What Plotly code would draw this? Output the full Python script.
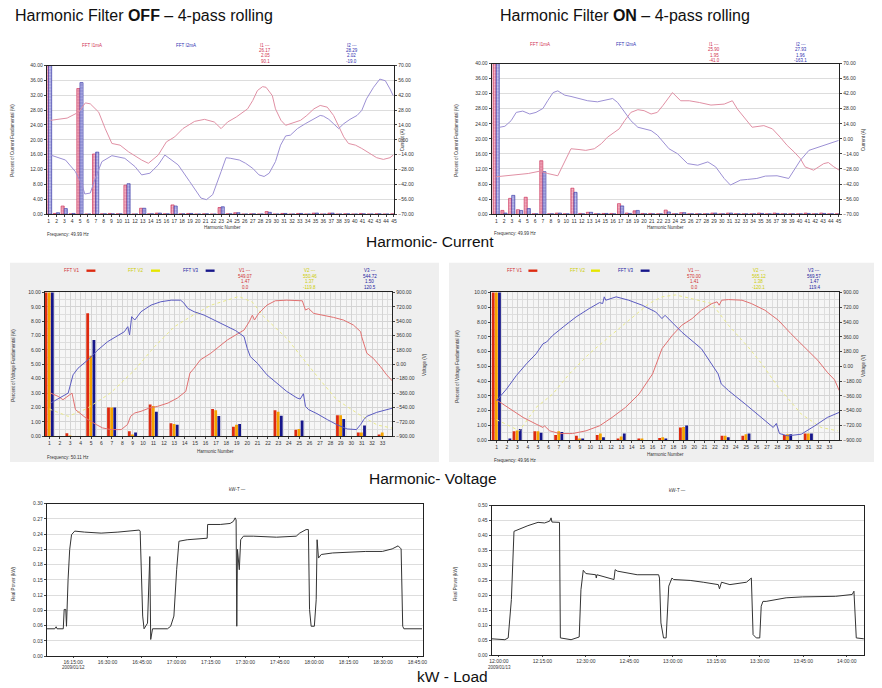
import plotly.graph_objects as go
import pandas as pd

# The page places the figure 8 px in from the top-left corner, so the figure is
# sized to fill the remaining window and all layout positions are given in window pixels.
OFF = 8
W, H = 882 - OFF, 688 - OFF
FONT = "Liberation Sans, Arial, sans-serif"

# ---------------- DATA ----------------
harm45 = list(range(1, 46))
harm33 = list(range(1, 34))

# Harmonic current, filter OFF (% of fundamental)
i1_off = [100, 0.2, 2.2, 0.1, 33.8, 0.05, 16.2, 0.1, 0.2, 0.1, 7.8, 0.05, 1.6, 0.1, 0.3,
          0.1, 2.5, 0.1, 0.2, 0.05, 0.1, 0.05, 1.8, 0.1, 0.4, 0.05, 0.1, 0.05, 0.7, 0.05,
          0.2, 0.05, 0.2, 0.05, 0.3, 0.05, 0.3, 0.05, 0.1, 0.05, 0.2, 0.05, 0.1, 0.05, 0.1]
i2_off = [100, 0.4, 1.5, 0.2, 35.4, 0.05, 16.7, 0.1, 0.1, 0.1, 8.2, 0.05, 1.6, 0.1, 0.3,
          0.1, 2.2, 0.1, 0.2, 0.05, 0.1, 0.05, 2.0, 0.1, 0.4, 0.05, 0.1, 0.05, 0.5, 0.05,
          0.2, 0.05, 0.2, 0.05, 0.3, 0.05, 0.3, 0.05, 0.1, 0.05, 0.1, 0.05, 0.1, 0.05, 0.1]
# Harmonic current, filter ON
i1_on = [100, 1.0, 4.2, 1.2, 4.5, 0.1, 14.2, 0.1, 0.3, 0.1, 6.9, 0.2, 0.5, 0.1, 0.2,
         0.2, 2.8, 0.3, 0.9, 0.2, 0.2, 0.1, 1.1, 0.1, 0.4, 0.1, 0.1, 0.1, 0.3, 0.1,
         0.3, 0.1, 0.1, 0.1, 0.3, 0.1, 0.3, 0.1, 0.1, 0.1, 0.3, 0.1, 0.3, 0.1, 0.1]
i2_on = [100, 0.3, 5.0, 1.0, 1.5, 0.1, 11.3, 0.1, 0.3, 0.1, 5.8, 0.1, 0.5, 0.1, 0.2,
         0.1, 2.2, 0.2, 1.0, 0.1, 0.1, 0.1, 0.6, 0.1, 0.4, 0.1, 0.1, 0.1, 0.3, 0.1,
         0.3, 0.1, 0.1, 0.1, 0.2, 0.1, 0.2, 0.1, 0.1, 0.1, 0.2, 0.1, 0.2, 0.1, 0.1]

# Current waveforms (A), x in harmonic-axis units
wav_i1_off_x = [1.24, 3.35, 4.83, 5.67, 6.3, 7.37, 8.2, 9.05, 10.1, 11.16, 12.85, 13.7, 14.96, 16.0,
                17.06, 18.1, 19.6, 20.86, 22.1, 22.97, 23.8, 24.9, 26.35, 27.0, 27.6, 28.25, 28.7,
                29.5, 29.9, 30.6, 31.2, 31.8, 33.1, 33.9, 34.8, 35.6, 36.5, 37.3, 37.95, 38.6, 39.2,
                40.1, 40.9, 41.96, 42.8, 43.65, 44.5, 44.9]
wav_i1_off_y = [18.4, 20.5, 26.1, 34.8, 33.9, 26.1, 10.6, -3.4, -5.0, -11.2, -19.0, -22.1, -14.3, -1.9,
                2.8, 10.6, 17.4, 19.3, 16.8, 10.6, 16.8, 21.5, 29.2, 37.0, 46.4, 50.1, 49.5,
                41.7, 29.2, 18.4, 13.7, 15.2, 18.4, 23.0, 29.2, 32.4, 30.8, 23.0, 12.1, 2.8, -3.4,
                -5.0, -8.1, -12.8, -16.8, -18.4, -16.8, -14.3]
wav_i2_off_x = [1.24, 3.14, 4.4, 5.25, 5.6, 6.3, 6.94, 7.78, 9.05, 10.7, 12.0, 12.85, 13.9, 14.96,
                15.8, 16.6, 17.5, 18.96, 20.4, 21.1, 21.9, 22.97, 23.6, 24.2, 25.3, 26.1, 27.0, 27.8,
                28.45, 29.1, 29.9, 30.55, 31.2, 31.8, 32.7, 33.7, 34.8, 35.6, 36.0, 36.7, 37.3, 37.95,
                38.6, 39.4, 40.3, 40.9, 41.5, 42.4, 43.2, 43.9, 44.5, 44.9]
wav_i2_off_y = [-14.3, -19.0, -29.9, -42.3, -51.0, -50.1, -36.1, -20.5, -14.9, -17.4, -25.2, -33.0,
                -31.4, -23.6, -14.3, -19.0, -23.6, -39.2, -54.8, -56.3, -51.6, -29.9, -16.8, -17.4,
                -19.0, -22.1, -26.8, -33.0, -34.5, -31.4, -20.5, -5.0, 3.7, 4.4, 10.6, 15.2, 19.9,
                23.0, 22.4, 19.3, 15.2, 10.6, 15.2, 19.3, 23.0, 27.7, 38.6, 49.5, 57.2, 55.7, 47.9, 41.7]

wav_i1_on_x = [1.0, 2.9, 5.1, 6.6, 7.6, 8.9, 9.55, 10.2, 10.6, 11.5, 12.5, 13.6, 14.5, 15.3, 16.2,
               16.8, 17.5, 18.3, 19.2, 20.0, 20.9, 21.7, 22.4, 23.65, 24.7, 25.8, 27.1, 28.6, 30.3,
               31.35, 32.0, 33.05, 33.9, 35.4, 36.5, 37.5, 38.4, 39.3, 40.1, 40.7, 41.8, 43.1,
               43.7, 44.4, 45.1]
wav_i1_on_y = [-35.2, -33.7, -32.2, -30.0, -32.2, -34.3, -24.5, -13.8, -9.2, -9.8, -10.7, -9.2, -4.5,
               1.6, 6.2, 9.3, 16.9, 24.6, 27.1, 26.2, 23.1, 24.6, 30.8, 43.0, 35.4, 35.4, 33.8,
               31.4, 32.3, 35.4, 27.7, 18.5, 10.8, 12.3, 9.3, 1.6, -6.1, -12.2, -18.4, -26.0,
               -29.1, -23.0, -22.0, -26.0, -29.1]
wav_i2_on_x = [1.44, 2.1, 2.9, 3.56, 4.4, 5.3, 6.1, 7.0, 7.6, 8.3, 8.9, 9.8, 10.6, 11.5, 12.75, 14.0,
               15.1, 15.96, 16.6, 17.5, 18.3, 19.2, 20.0, 20.9, 21.7, 23.2, 24.3, 25.6, 26.9, 28.2,
               29.2, 30.3, 31.1, 32.4, 33.3, 34.5, 35.6, 37.1, 38.6, 39.3, 40.1, 41.2, 42.5, 43.7, 45.0]
wav_i2_on_y = [10.8, 11.7, 16.9, 24.6, 25.8, 23.1, 24.6, 28.3, 35.4, 43.0, 44.6, 40.6, 39.4, 37.8,
               35.4, 34.4, 36.0, 37.5, 33.8, 24.6, 16.9, 10.8, 9.3, 7.7, 3.5, -9.2, -13.8, -23.0,
               -24.5, -21.4, -26.0, -36.8, -42.9, -38.3, -37.7, -36.8, -34.6, -34.3, -36.8, -29.1,
               -19.9, -10.7, -7.6, -4.5, -1.5]

# Harmonic voltage (% of fundamental), listed harmonics, others zero
v1_off = {1: 100, 3: 0.2, 5: 8.55, 7: 2.0, 9: 0.35, 11: 2.2, 13: 0.9, 17: 1.9, 19: 0.65, 23: 1.8,
          25: 0.45, 29: 1.45, 31: 0.25, 33: 0.1}
v2_off = {1: 100, 3: 0.05, 5: 5.6, 7: 2.0, 9: 0.1, 11: 2.1, 13: 0.85, 17: 1.8, 19: 0.8, 23: 1.7,
          25: 0.5, 29: 1.45, 31: 0.25, 33: 0.25}
v3_off = {1: 100, 5: 6.7, 7: 2.0, 9: 0.25, 11: 1.7, 13: 0.8, 17: 1.4, 19: 0.85, 23: 1.43,
          25: 1.1, 29: 1.2, 31: 0.74}
v1_on = {1: 100, 3: 0.6, 5: 0.6, 7: 0.35, 9: 0.3, 11: 0.35, 13: 0.1, 15: 0.05, 17: 0.15, 19: 0.85,
         23: 0.3, 25: 0.3, 29: 0.35, 31: 0.45}
v2_on = {1: 100, 3: 0.65, 5: 0.6, 7: 0.6, 9: 0.05, 11: 0.45, 13: 0.25, 15: 0.05, 17: 0.2, 19: 0.9,
         23: 0.3, 25: 0.4, 29: 0.4, 31: 0.45}
v3_on = {1: 100, 2: 0.1, 3: 0.75, 5: 0.5, 7: 0.55, 9: 0.1, 11: 0.2, 13: 0.45, 17: 0.05, 19: 1.0,
         23: 0.2, 25: 0.45, 29: 0.4, 31: 0.45}

# Voltage waveforms (V)
wv1_off_x = [1.12, 1.83, 2.3, 2.8, 3.17, 3.5, 3.9, 4.7, 5.5, 6.1, 6.9, 7.9, 8.5, 8.8, 9.2, 9.8, 10.6,
             11.4, 12.4, 13.3, 14.1, 14.5, 14.9, 15.5, 16.5, 17.46, 18.1, 18.9, 19.4, 19.7, 20.2,
             20.5, 20.7, 21.1, 21.9, 22.7, 23.8, 25.3, 25.6, 25.9, 26.4, 27.3, 28.3, 29.25, 30.2,
             30.9, 31.0, 31.5, 32.1, 32.8, 33.4, 34.0]
wv1_off_y = [-360, -401, -443, -401, -360, -567, -609, -692, -754, -796, -817, -817, -754, -651, -609,
             -588, -547, -526, -484, -422, -339, -110, -48, 56, 139, 243, 306, 368, 409, 430, 534,
             617, 555, 638, 742, 796, 804, 796, 680, 700, 638, 617, 588, 555, 493, 409, 347, 139,
             77, -27, -131, -214]
wv2_off_x = [1.0, 2.8, 4.5, 6.9, 9.2, 11.1, 13.0, 14.6, 16.5, 18.4, 19.2, 20.5, 21.6, 23.8, 25.7,
             27.0, 28.6, 30.9, 32.5, 34.0]
wv2_off_y = [-560, -651, -560, -356, -69, 222, 471, 600, 740, 820, 850, 780, 596, 326, 15, -194,
             -443, -640, -760, -800]
wv3_off_x = [1.12, 1.99, 2.8, 3.27, 3.75, 4.7, 5.66, 6.6, 7.4, 8.2, 8.53, 8.7, 8.9, 9.2, 9.8, 10.76,
             11.7, 12.7, 13.6, 13.9, 14.3, 14.9, 15.86, 16.8, 17.46, 18.1, 18.9, 19.7, 20.0, 20.3,
             20.97, 21.9, 22.9, 23.8, 24.8, 25.1, 25.4, 25.6, 25.9, 26.7, 27.7, 28.6, 29.6, 30.2,
             30.5, 30.9, 31.2, 31.5, 32.45, 34.0]
wv3_off_y = [-484, -422, -360, -131, -48, 56, 181, 285, 347, 409, 472, 368, 597, 555, 659, 742, 784,
             804, 804, 771, 700, 659, 617, 555, 513, 472, 422, 347, 202, 98, 15, -131, -235, -339,
             -422, -434, -368, -526, -567, -617, -692, -754, -809, -817, -817, -754, -692, -651,
             -601, -547]

wv1_on_x = [1.0, 2.3, 3.55, 4.8, 5.46, 5.6, 6.1, 7.05, 8.3, 9.6, 10.9, 12.1, 13.4, 14.7, 16.0, 16.9,
            17.9, 18.8, 19.8, 20.7, 21.7, 22.2, 22.4, 22.65, 23.3, 24.6, 25.5, 26.8, 28.1, 29.3,
            30.6, 31.9, 32.8, 33.5, 33.95]
wv1_on_y = [-410, -521, -623, -704, -745, -725, -786, -819, -819, -786, -725, -623, -500, -337, -92,
            214, 378, 500, 582, 684, 765, 786, 745, 806, 814, 806, 765, 684, 561, 398, 235, 71,
            -72, -165, -296]
wv2_on_x = [1.0, 3.2, 4.8, 6.4, 8.0, 9.9, 11.8, 13.7, 15.65, 16.9, 18.2, 19.6, 21.7, 23.3, 25.2,
            26.5, 28.1, 30.3, 32.2, 33.8]
wv2_on_y = [-650, -786, -500, -337, -92, 153, 357, 561, 765, 847, 870, 830, 765, 500, 235, 30,
            -255, -582, -745, -786]
wv3_on_x = [1.0, 1.96, 2.9, 3.87, 4.8, 5.46, 5.8, 6.4, 7.4, 8.64, 9.9, 10.9, 11.2, 11.35, 11.5, 12.5,
            13.7, 15.0, 16.3, 16.9, 17.2, 18.8, 20.7, 22.3, 22.6, 23.3, 24.9, 26.5, 27.6, 27.9,
            28.2, 29.0, 30.3, 31.6, 32.8, 33.95]
wv3_on_y = [-418, -276, -112, 31, 153, 275, 296, 377, 480, 602, 704, 777, 765, 847, 806, 847, 806,
            745, 663, 582, 622, 418, 214, -92, -214, -296, -459, -623, -745, -696, -819, -847,
            -827, -725, -623, -561]

# kW load, filter OFF: minutes after 16:00 on 2009/01/12
kw_off_min = [3.5, 7.0, 7.6, 8.0, 10.7, 11.1, 11.8, 12.1, 12.8, 13.5, 14.3, 15.7, 20.0, 27.2, 34.5,
              41.6, 43.8, 44.2, 45.3, 45.9, 47.4, 48.4, 48.8, 49.6, 56.1, 57.5, 58.9, 60.1, 61.1,
              64.7, 73.4, 73.6, 79.1, 83.4, 84.8, 85.6, 86.0, 86.3, 86.6, 87.4, 88.0, 89.2, 93.5,
              103.6, 112.2, 113.7, 116.5, 117.5, 118.0, 118.7, 120.1, 120.9, 121.3, 121.9, 123.1,
              128.1, 135.3, 142.5, 149.7, 154.0, 156.6, 157.9, 158.6, 159.1, 167.0]
kw_off_val = [0.054, 0.054, 0.058, 0.054, 0.054, 0.092, 0.092, 0.059, 0.151, 0.210, 0.239, 0.246,
              0.244, 0.242, 0.244, 0.247, 0.248, 0.246, 0.079, 0.054, 0.065, 0.196, 0.033, 0.054,
              0.054, 0.059, 0.079, 0.170, 0.226, 0.229, 0.232, 0.259, 0.259, 0.261, 0.265, 0.272,
              0.268, 0.059, 0.210, 0.170, 0.229, 0.236, 0.236, 0.234, 0.236, 0.242, 0.249, 0.249,
              0.092, 0.059, 0.059, 0.111, 0.229, 0.193, 0.200, 0.203, 0.205, 0.206, 0.206, 0.211,
              0.217, 0.211, 0.059, 0.054, 0.054]
# kW load, filter ON: minutes after 12:00 on 2009/01/13
kw_on_min = [-2.5, 2.05, 3.2, 4.3, 5.2, 6.6, 10.0, 13.5, 15.75, 17.5, 18.0, 18.3, 20.9, 21.2, 22.6,
             24.9, 27.7, 28.3, 29.1, 30.0, 33.4, 33.6, 33.8, 39.7, 40.1, 40.9, 47.7, 55.1, 55.4,
             55.9, 56.8, 57.7, 58.6, 59.1, 59.7, 60.3, 66.0, 70.5, 75.7, 76.1, 76.8, 79.7, 85.4,
             87.1, 87.7, 88.8, 90.0, 90.5, 91.1, 92.2, 99.1, 104.8, 116.2, 121.9, 122.5, 123.3, 125.9]
kw_on_val = [0.055, 0.052, 0.058, 0.186, 0.414, 0.420, 0.433, 0.444, 0.442, 0.448, 0.459, 0.445,
             0.444, 0.058, 0.055, 0.052, 0.061, 0.219, 0.284, 0.273, 0.269, 0.258, 0.269, 0.253,
             0.286, 0.281, 0.269, 0.269, 0.258, 0.108, 0.058, 0.058, 0.231, 0.242, 0.258, 0.253,
             0.250, 0.244, 0.236, 0.222, 0.244, 0.236, 0.244, 0.258, 0.069, 0.058, 0.058, 0.164,
             0.180, 0.180, 0.192, 0.195, 0.197, 0.203, 0.214, 0.058, 0.055]

off_start = pd.Timestamp("2009-01-12 16:00:00")
on_start = pd.Timestamp("2009-01-13 12:00:00")
kw_off_t = [off_start + pd.Timedelta(minutes=m) for m in kw_off_min]
kw_on_t = [on_start + pd.Timedelta(minutes=m) for m in kw_on_min]


def full(d, n):
    return [d.get(h, 0) for h in range(1, n + 1)]


# ---------------- LAYOUT HELPERS (window pixels -> paper) ----------------
def px(x):
    return (x - OFF) / W


def py(y):
    return 1 - (y - OFF) / H


RED_C = "#c8204a"
BLUE_C = "#2a2aa0"
TICKF = dict(size=5, color="#333333", family=FONT)
AX = dict(showline=True, linecolor="#222222", linewidth=1, mirror=True, ticks="outside",
          ticklen=2, tickcolor="#444444", tickfont=TICKF, zeroline=False, tickangle=0)

fig = go.Figure()

# ---- current panels ----
for xa, ya, ya2, d1, d2, w1x, w1y, w2x, w2y in [
    ("x", "y", "y2", i1_off, i2_off, wav_i1_off_x, wav_i1_off_y, wav_i2_off_x, wav_i2_off_y),
    ("x2", "y3", "y4", i1_on, i2_on, wav_i1_on_x, wav_i1_on_y, wav_i2_on_x, wav_i2_on_y),
]:
    fig.add_trace(go.Scatter(x=w1x, y=w1y, xaxis=xa, yaxis=ya2, mode="lines",
                             line=dict(color="#e090a4", width=1), hoverinfo="skip"))
    fig.add_trace(go.Scatter(x=w2x, y=w2y, xaxis=xa, yaxis=ya2, mode="lines",
                             line=dict(color="#9c90d4", width=1), hoverinfo="skip"))
    fig.add_trace(go.Bar(x=harm45, y=d1, xaxis=xa, yaxis=ya, width=0.4, offset=-0.42,
                         marker=dict(color="#f7c6d4", line=dict(color=RED_C, width=0.6),
                                     pattern=dict(shape=".", fgcolor=RED_C, size=3, solidity=0.45))))
    fig.add_trace(go.Bar(x=harm45, y=d2, xaxis=xa, yaxis=ya, width=0.4, offset=-0.02,
                         marker=dict(color="#d0d0f4", line=dict(color=BLUE_C, width=0.6),
                                     pattern=dict(shape=".", fgcolor=BLUE_C, size=3, solidity=0.45))))

# ---- voltage panels ----
VR, VY, VB = "#dd2a10", "#f5a300", "#16168a"
for xa, ya, ya2, a, b, c, w1, w2, w3 in [
    ("x3", "y5", "y6", v1_off, v2_off, v3_off, (wv1_off_x, wv1_off_y), (wv2_off_x, wv2_off_y),
     (wv3_off_x, wv3_off_y)),
    ("x4", "y7", "y8", v1_on, v2_on, v3_on, (wv1_on_x, wv1_on_y), (wv2_on_x, wv2_on_y),
     (wv3_on_x, wv3_on_y)),
]:
    fig.add_trace(go.Scatter(x=w2[0], y=w2[1], xaxis=xa, yaxis=ya2, mode="lines",
                             line=dict(color="#e8e888", width=1, dash="dot"), hoverinfo="skip"))
    fig.add_trace(go.Scatter(x=w1[0], y=w1[1], xaxis=xa, yaxis=ya2, mode="lines",
                             line=dict(color="#e07070", width=1), hoverinfo="skip"))
    fig.add_trace(go.Scatter(x=w3[0], y=w3[1], xaxis=xa, yaxis=ya2, mode="lines",
                             line=dict(color="#5a5ac0", width=1), hoverinfo="skip"))
    for d, col, off in [(a, VR, -0.46), (b, VY, -0.16), (c, VB, 0.14)]:
        fig.add_trace(go.Bar(x=harm33, y=full(d, 33), xaxis=xa, yaxis=ya, width=0.27, offset=off,
                             marker=dict(color=col, line=dict(width=0))))

# ---- kW panels ----
fig.add_trace(go.Scatter(x=kw_off_t, y=kw_off_val, xaxis="x5", yaxis="y9", mode="lines",
                         line=dict(color="#333333", width=1)))
fig.add_trace(go.Scatter(x=kw_on_t, y=kw_on_val, xaxis="x6", yaxis="y10", mode="lines",
                         line=dict(color="#333333", width=1)))

GRID = "#dddddd"
VGRID = dict(showgrid=True, gridcolor="#d4d4d4", gridwidth=0.5,
             minor=dict(dtick=0.5, showgrid=True, gridcolor="#dedede", gridwidth=0.5))
layout = dict(
    width=W, height=H, margin=dict(l=0, r=0, t=0, b=0), showlegend=False,
    paper_bgcolor="white", plot_bgcolor="rgba(0,0,0,0)", barmode="overlay",
    font=dict(family=FONT),
    # panel 1
    xaxis=dict(AX, domain=[px(45), px(395)], range=[0.75, 45.05], tickvals=harm45, anchor="y",
               showgrid=False),
    yaxis=dict(AX, domain=[py(213), py(63)], range=[0, 40], dtick=4, tickformat=".2f",
               anchor="x", showgrid=True, gridcolor=GRID),
    yaxis2=dict(AX, overlaying="y", side="right", anchor="x", range=[-70, 70], dtick=14,
                tickformat=".2f", showgrid=False, mirror=False),
    # panel 2
    xaxis2=dict(AX, domain=[px(493), px(843)], range=[0.4, 45.1], tickvals=harm45, anchor="y3",
                showgrid=False),
    yaxis3=dict(AX, domain=[py(213), py(61)], range=[0, 40], dtick=4, tickformat=".2f",
                anchor="x2", showgrid=True, gridcolor=GRID),
    yaxis4=dict(AX, overlaying="y3", side="right", anchor="x2", range=[-70, 70], dtick=14,
                tickformat=".2f", showgrid=False, mirror=False),
    # panel 3
    xaxis3=dict(AX, **VGRID, domain=[px(43), px(393)], range=[0.55, 33.95], tick0=1, dtick=1,
                anchor="y5"),
    yaxis5=dict(AX, **VGRID, domain=[py(437), py(292)], range=[0, 10], dtick=1, tickformat=".2f",
                anchor="x3"),
    yaxis6=dict(AX, overlaying="y5", side="right", anchor="x3", range=[-900, 900], dtick=180,
                tickformat=".2f", showgrid=False, mirror=False),
    # panel 4
    xaxis4=dict(AX, **VGRID, domain=[px(492), px(843)], range=[0.43, 33.95], tick0=1, dtick=1,
                anchor="y7"),
    yaxis7=dict(AX, **VGRID, domain=[py(441), py(292)], range=[0, 10], dtick=1, tickformat=".2f",
                anchor="x4"),
    yaxis8=dict(AX, overlaying="y7", side="right", anchor="x4", range=[-900, 900], dtick=180,
                tickformat=".2f", showgrid=False, mirror=False),
    # panel 5
    xaxis5=dict(AX, domain=[px(45), px(424)], type="date",
                range=["2009-01-12 16:03:30", "2009-01-12 18:47:30"],
                tick0="2009-01-12 16:15:00", dtick=15 * 60 * 1000, tickformat="%H:%M:%S",
                anchor="y9", showgrid=False, ticklen=1),
    yaxis9=dict(AX, domain=[py(659), py(505)], range=[0, 0.30], dtick=0.03, tickformat=".2f",
                anchor="x5", showgrid=True, gridcolor=GRID),
    # panel 6
    xaxis6=dict(AX, domain=[px(493), px(868)], type="date",
                range=["2009-01-13 11:57:30", "2009-01-13 14:06:00"],
                tick0="2009-01-13 12:00:00", dtick=15 * 60 * 1000, tickformat="%H:%M:%S",
                anchor="y10", showgrid=False, ticklen=1),
    yaxis10=dict(AX, domain=[py(658), py(507)], range=[0, 0.50], dtick=0.05, tickformat=".2f",
                 anchor="x6", showgrid=True, gridcolor=GRID),
)
fig.update_layout(**layout)

shapes = []
# grey frames for voltage panels
for x0, x1 in [(8, 440), (450, 882)]:
    shapes.append(dict(type="rect", xref="paper", yref="paper", x0=px(x0), x1=px(x1),
                       y0=py(463), y1=py(262), fillcolor="#efefef", line=dict(width=0),
                       layer="below"))
for x0, x1, y0, y1 in [(43, 393, 437, 292), (492, 843, 441, 292)]:
    shapes.append(dict(type="rect", xref="paper", yref="paper", x0=px(x0), x1=px(x1),
                       y0=py(y0), y1=py(y1), fillcolor="#f6f6f6", line=dict(width=0),
                       layer="below"))
# legend swatches
for (xs, col, yv) in [(85, VR, 270), (150, "#e6e600", 270), (205, VB, 270),
                      (530, VR, 270), (593, "#e6e600", 270), (643, VB, 270)]:
    shapes.append(dict(type="rect", xref="paper", yref="paper", x0=px(xs), x1=px(xs + 9),
                       y0=py(yv + 1.2), y1=py(yv - 1.2), fillcolor=col, line=dict(width=0)))
fig.update_layout(shapes=shapes)

ann = []


def text(x, y, s, size=5, color="#333333", xanchor="center", angle=0, yanchor="middle"):
    ann.append(dict(x=px(x), y=py(y), xref="paper", yref="paper", text=s, showarrow=False,
                    xanchor=xanchor, yanchor=yanchor, textangle=angle,
                    font=dict(size=size, color=color, family=FONT)))


# main titles
text(11, 13, "Harmonic Filter <b>OFF</b> – 4-pass rolling", 16, "#111111", "left")
text(499, 13, "Harmonic Filter <b>ON</b> – 4-pass rolling", 16, "#111111", "left")
text(431, 241, "Harmonic- Current", 15.5, "#111111")
text(434, 480, "Harmonic- Voltage", 15.5, "#111111")
text(454, 679, "kW - Load", 15.5, "#111111")

# current panel headers
for (xl1, xl2, xr1, xr2, red_vals, blue_vals, ytop) in [
    (91, 185, 265, 352, ["26.17", "2.05", "90.1"], ["28.29", "2.02", "-19.0"], 43),
    (542, 628, 717, 804, ["25.90", "1.95", "-41.0"], ["27.93", "1.96", "-163.1"], 42),
]:
    text(xl1, ytop, "FFT I1mA", 4.5, "#d03050")
    text(xl2, ytop, "FFT I2mA", 4.5, "#3030b0")
    for k, s in enumerate(["I1 ---"] + red_vals):
        text(xr1, ytop + 5.2 * k, s, 4.5, "#d03050")
    for k, s in enumerate(["I2 ---"] + blue_vals):
        text(xr2, ytop + 5.2 * k, s, 4.5, "#3030b0")

text(11, 138, "Percent of Current Fundamental (%)", 4.5, angle=-90)
text(404, 138, "Current (A)", 4.5, angle=-90)
text(868, 138, "Current (A)", 4.5, angle=-90)
text(458, 138, "Percent of Current Fundamental (%)", 4.5, angle=-90)
text(222, 226, "Harmonic Number", 4.5)
text(668, 226, "Harmonic Number", 4.5)
text(43, 233, "Frequency: 49.99 Hz", 4.5, xanchor="left")
text(493, 232, "Frequency: 49.99 Hz", 4.5, xanchor="left")

# voltage panel headers
for (xf1, xf2, xf3, xr1, xr2, xr3, v1s, v2s, v3s) in [
    (70, 134, 190, 245, 310, 370, ["549.07", "1.47", "0.0"], ["550.46", "1.37", "-119.8"],
     ["544.72", "1.50", "120.5"]),
    (516, 579, 628, 697, 762, 818, ["570.00", "1.41", "0.0"], ["565.12", "1.38", "-120.1"],
     ["569.57", "1.47", "119.4"]),
]:
    text(xf1, 270, "FFT V1", 4.5, "#d03030")
    text(xf2, 270, "FFT V2", 4.5, "#cccc00")
    text(xf3, 270, "FFT V3", 4.5, "#2020a0")
    for k, s in enumerate(["V1 ---"] + v1s):
        text(xr1, 270 + 5.5 * k, s, 4.5, "#d03030")
    for k, s in enumerate(["V2 ---"] + v2s):
        text(xr2, 270 + 5.5 * k, s, 4.5, "#cccc00")
    for k, s in enumerate(["V3 ---"] + v3s):
        text(xr3, 270 + 5.5 * k, s, 4.5, "#2020a0")

text(12, 365, "Percent of Voltage Fundamental (%)", 4.5, angle=-90)
text(426, 365, "Voltage (V)", 4.5, angle=-90)
text(459, 366, "Percent of Voltage Fundamental (%)", 4.5, angle=-90)
text(868, 366, "Voltage (V)", 4.5, angle=-90)
text(215, 452, "Harmonic Number", 4.5)
text(668, 455, "Harmonic Number", 4.5)
text(43, 458, "Frequency: 50.11 Hz", 4.5, xanchor="left")
text(493, 461, "Frequency: 49.96 Hz", 4.5, xanchor="left")

# kW panels
text(237, 491, "kW-T —", 4.5)
text(680, 492, "kW-T —", 4.5)
text(12, 585, "Real Power (kW)", 4.5, angle=-90)
text(457, 585, "Real Power (kW)", 4.5, angle=-90)
text(72, 670, "2009/01/12", 4.5)
text(501, 670, "2009/01/13", 4.5)

fig.update_layout(annotations=ann)
fig.write_html("out.html")
